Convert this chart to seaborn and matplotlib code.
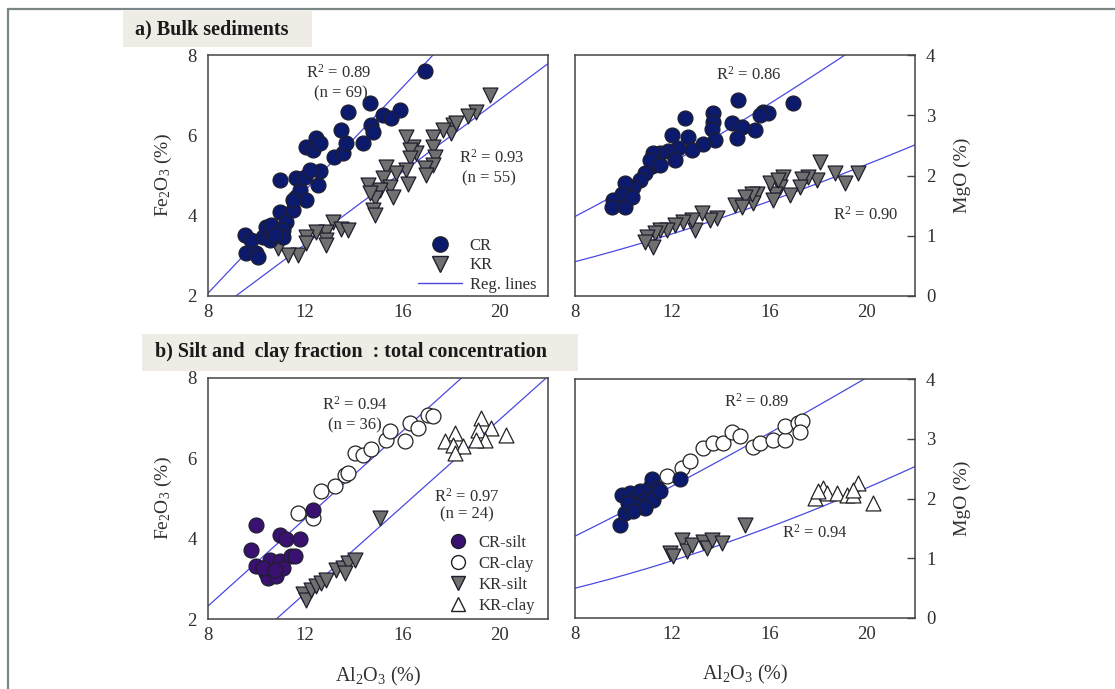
import numpy as np
import pandas as pd
import matplotlib
matplotlib.use("Agg")
import matplotlib.pyplot as plt
from matplotlib.lines import Line2D
from matplotlib.patches import Rectangle
import seaborn as sns

# ---------------- data ----------------
# a) bulk sediments: Al2O3 vs Fe2O3
bulk_cr_al = [16.92, 9.54, 9.58, 9.99, 10.06, 9.78, 10.26, 10.40, 10.6, 10.95, 10.95, 11.23, 11.09, 11.5,
              11.64, 11.77, 11.64, 11.98, 12.05, 12.05, 12.32, 12.46, 12.6, 12.6, 12.53, 13.2, 13.55, 13.69,
              13.49, 13.77, 14.38, 14.65, 14.73, 14.8, 15.2, 15.55, 15.9, 12.19, 11.5, 11.09, 10.54, 10.74]
bulk_cr_fe = [7.61, 3.52, 3.06, 3.06, 2.98, 3.39, 3.48, 3.73, 3.77, 4.89, 4.10, 3.85, 3.64, 4.14,
              4.47, 4.64, 4.93, 4.97, 4.39, 5.72, 5.64, 5.93, 5.80, 5.10, 4.76, 5.47, 5.55, 5.80,
              6.13, 6.59, 5.80, 6.80, 6.26, 6.09, 6.50, 6.42, 6.63, 5.14, 4.39, 3.48, 3.39, 3.52]
bulk_kr_al = [19.6, 19.05, 18.7, 18.1, 18.0, 17.67, 17.26, 17.26, 17.33, 17.26, 16.92, 16.99, 16.44, 16.58,
              16.17, 16.3, 16.3, 16.17, 16.23, 15.75, 15.34, 15.2, 15.48, 15.07, 14.86, 14.79, 14.86, 14.59,
              14.66, 13.15, 13.49, 13.77, 12.87, 12.87, 12.87, 12.46, 12.05, 12.05, 11.7, 11.3, 10.88, 15.6, 18.23]
bulk_kr_fe = [7.0, 6.59, 6.47, 6.26, 6.05, 6.13, 5.97, 5.72, 5.47, 5.26, 5.18, 5.01, 5.72, 5.55,
              5.97, 5.64, 5.43, 5.14, 4.80, 5.05, 5.22, 4.93, 4.72, 4.64, 4.43, 4.14, 4.02, 4.76,
              4.56, 3.85, 3.68, 3.64, 3.60, 3.39, 3.27, 3.60, 3.48, 3.31, 3.02, 3.02, 3.19, 4.47, 6.30]

# a) bulk sediments: Al2O3 vs MgO
bulk_cr_al_mg = [16.99, 14.73, 15.75, 15.96, 15.62, 15.41, 13.7, 13.7, 13.63, 13.77, 13.28, 12.53, 11.98,
                 12.67, 12.8, 12.25, 11.84, 11.5, 14.45, 14.86, 14.66, 11.23, 11.16, 10.88, 10.68, 10.40,
                 10.06, 9.92, 9.58, 9.51, 10.06, 10.33, 11.09, 11.5, 12.12]
bulk_cr_mg = [3.20, 3.25, 3.06, 3.03, 3.00, 2.76, 3.03, 2.89, 2.78, 2.59, 2.53, 2.95, 2.67,
              2.64, 2.42, 2.45, 2.40, 2.37, 2.87, 2.81, 2.62, 2.37, 2.15, 2.04, 1.93, 1.81,
              1.87, 1.70, 1.59, 1.48, 1.48, 1.65, 2.26, 2.17, 2.26]
bulk_kr_al_mg = [19.67, 19.12, 18.7, 18.09, 17.95, 17.6, 17.33, 17.26, 16.85, 16.58, 16.44, 16.23, 16.17,
                 16.03, 15.48, 15.34, 15.27, 15.0, 14.59, 14.86, 13.83, 13.56, 13.21, 12.94, 12.8, 12.46,
                 12.12, 11.77, 11.5, 11.29, 10.95, 11.23, 10.88, 16.37]
bulk_kr_mg = [2.04, 1.87, 2.04, 2.23, 1.93, 1.98, 1.95, 1.81, 1.68, 1.98, 1.81, 1.70, 1.59,
              1.87, 1.70, 1.54, 1.70, 1.65, 1.51, 1.48, 1.29, 1.26, 1.37, 1.10, 1.26, 1.23,
              1.18, 1.10, 1.10, 1.04, 0.98, 0.82, 0.90, 1.92]

# b) silt and clay fraction: Al2O3 vs Fe2O3
sc_crsilt_al = [9.99, 9.78, 9.99, 10.40, 10.47, 10.81, 10.54, 10.95, 10.95, 11.23, 11.43, 11.09, 11.77, 11.60, 12.32, 10.26, 10.74]
sc_crsilt_fe = [4.35, 3.73, 3.31, 3.15, 3.02, 3.06, 3.48, 3.44, 4.10, 3.98, 3.56, 3.27, 3.98, 3.56, 4.72, 3.27, 3.23]
sc_crclay_al = [11.71, 12.32, 12.67, 13.22, 13.63, 13.77, 14.04, 14.38, 14.73, 15.34, 15.48, 16.1, 16.3, 16.65, 17.06, 17.26]
sc_crclay_fe = [4.64, 4.51, 5.18, 5.30, 5.59, 5.63, 6.13, 6.09, 6.22, 6.46, 6.67, 6.42, 6.88, 6.76, 7.09, 7.05]
sc_krsilt_al = [15.1, 11.91, 12.05, 12.25, 12.46, 12.67, 12.87, 13.28, 13.56, 13.77, 14.04, 13.63]
sc_krsilt_fe = [4.51, 2.61, 2.48, 2.73, 2.81, 2.90, 2.98, 3.23, 3.27, 3.39, 3.48, 3.15]
sc_krclay_al = [19.25, 19.12, 19.67, 19.39, 19.04, 18.16, 17.74, 18.09, 18.5, 18.16, 20.28]
sc_krclay_fe = [7.0, 6.71, 6.76, 6.46, 6.46, 6.63, 6.42, 6.34, 6.30, 6.13, 6.59]

# b) silt and clay fraction: Al2O3 vs MgO
sc_crsilt_al_mg = [9.85, 10.06, 9.92, 10.26, 10.47, 10.68, 10.88, 10.61, 10.20, 11.09, 11.16, 11.36, 11.23, 11.50, 12.32, 10.88, 10.40]
sc_crsilt_mg = [1.56, 1.76, 2.06, 2.09, 2.01, 2.12, 1.98, 1.87, 1.92, 2.20, 2.32, 2.18, 1.98, 2.12, 2.32, 1.84, 1.79]
sc_crclay_al_mg = [11.77, 12.39, 12.74, 13.28, 13.7, 14.1, 14.45, 14.79, 15.34, 15.62, 16.17, 16.65, 16.65, 17.2, 17.33, 17.26]
sc_crclay_mg = [2.37, 2.51, 2.62, 2.85, 2.93, 2.93, 3.12, 3.04, 2.87, 2.93, 2.98, 2.98, 3.21, 3.26, 3.29, 3.12]
sc_krsilt_al_mg = [15.0, 11.91, 12.05, 12.39, 12.6, 12.80, 13.28, 13.42, 13.63, 14.04]
sc_krsilt_mg = [1.56, 1.09, 1.03, 1.31, 1.12, 1.23, 1.28, 1.17, 1.31, 1.26]
sc_krclay_al_mg = [17.88, 18.22, 18.36, 18.77, 19.19, 19.46, 19.67, 19.46, 20.28, 18.02]
sc_krclay_mg = [2.01, 2.18, 2.09, 2.09, 2.06, 2.06, 2.26, 2.15, 1.92, 2.12]

# regression lines: linear (slope, intercept) for Fe2O3, power (a, b) y = a*x^b for MgO
reg_bulk_fe_cr = (0.640, -3.05)
reg_bulk_fe_kr = (0.450, -2.115)
reg_bulk_mg_cr = (0.0935, 1.273)
reg_bulk_mg_kr = (0.0270, 1.466)
reg_sc_fe_cr = (0.544, -2.03)
reg_sc_fe_kr = (0.540, -3.84)
reg_sc_mg_cr = (0.119, 1.175)
reg_sc_mg_kr = (0.0177, 1.606)

r2_labels = ["R$^2$ = 0.89", "R$^2$ = 0.93", "R$^2$ = 0.86", "R$^2$ = 0.90",
             "R$^2$ = 0.94", "R$^2$ = 0.97", "R$^2$ = 0.89", "R$^2$ = 0.94"]
n_labels = ["(n = 69)", "(n = 55)", "(n = 36)", "(n = 24)"]
x_ticks = [8, 12, 16, 20]
fe_ticks = [2, 4, 6, 8]
mg_ticks = [0, 1, 2, 3, 4]

# ---------------- style ----------------
sns.set_theme(style="white")
plt.rcParams["font.family"] = ["Liberation Serif", "DejaVu Serif"]
plt.rcParams["mathtext.fontset"] = "custom"
plt.rcParams["mathtext.rm"] = "Liberation Serif"
plt.rcParams["mathtext.it"] = "Liberation Serif:italic"
plt.rcParams["mathtext.bf"] = "Liberation Serif:bold"

NAVY = "#0c1a6e"
PURPLE = "#3a1170"
GRAY = "#707070"
EDGE = "#1e1e2e"
LINE = "#4a4ae0"
TEXT = "#303030"
MS = 115

W, H = 1115, 689
fig = plt.figure(figsize=(W / 100, H / 100), dpi=100)
fig.patch.set_facecolor("white")


def px_axes(l, t, r, b):
    return fig.add_axes([l / W, 1 - b / H, (r - l) / W, (b - t) / H])


ax_tl = px_axes(208, 55, 548, 296)
ax_tr = px_axes(575, 55, 915, 296)
ax_bl = px_axes(208, 378, 548, 619)
ax_br = px_axes(575, 379, 915, 618)

xs = np.linspace(8, 22, 200)


def scat(ax, x, y, marker, face, edge, size=MS):
    df = pd.DataFrame({"x": x, "y": y})
    sns.scatterplot(data=df, x="x", y="y", ax=ax, marker=marker, color=face,
                    edgecolor=edge, linewidth=0.9, s=size, legend=False, zorder=3)


def lin(ax, coef):
    ax.plot(xs, coef[0] * xs + coef[1], color=LINE, lw=0.9, zorder=2)


def powl(ax, coef):
    ax.plot(xs, coef[0] * xs ** coef[1], color=LINE, lw=0.9, zorder=2)


def style(ax, yticks, ylim, right=False):
    ax.set_xlim(8, 22)
    ax.set_ylim(*ylim)
    ax.set_xticks(x_ticks)
    ax.set_yticks(yticks)
    for s in ax.spines.values():
        s.set_color("#444444")
        s.set_linewidth(1.1)
        s.set_visible(True)
    ax.tick_params(axis="both", direction="in", length=6, width=1.0, color="#444444",
                   labelsize=13.5, labelcolor=TEXT)
    ax.tick_params(axis="x", pad=6)
    ax.tick_params(axis="y", pad=8)
    if right:
        ax.yaxis.tick_right()
        ax.yaxis.set_label_position("right")
    ax.set_xlabel("")
    ax.set_ylabel("")
    ax.set_facecolor("white")


# top-left
lin(ax_tl, reg_bulk_fe_cr)
lin(ax_tl, reg_bulk_fe_kr)
scat(ax_tl, bulk_kr_al, bulk_kr_fe, "v", GRAY, EDGE)
scat(ax_tl, bulk_cr_al, bulk_cr_fe, "o", NAVY, EDGE)
style(ax_tl, fe_ticks, (2, 8))
ax_tl.set_ylabel("Fe$_2$O$_3$ (%)", fontsize=14, color=TEXT)
ax_tl.yaxis.set_label_coords(-0.10, 0.5)

# top-right
powl(ax_tr, reg_bulk_mg_cr)
powl(ax_tr, reg_bulk_mg_kr)
scat(ax_tr, bulk_kr_al_mg, bulk_kr_mg, "v", GRAY, EDGE)
scat(ax_tr, bulk_cr_al_mg, bulk_cr_mg, "o", NAVY, EDGE)
style(ax_tr, mg_ticks, (0, 4), right=True)
ax_tr.set_ylabel("MgO (%)", fontsize=14, color=TEXT, rotation=90)
ax_tr.yaxis.set_label_coords(1.115, 0.5)

# bottom-left
lin(ax_bl, reg_sc_fe_cr)
lin(ax_bl, reg_sc_fe_kr)
scat(ax_bl, sc_krclay_al, sc_krclay_fe, "^", "white", "#222222")
scat(ax_bl, sc_krsilt_al, sc_krsilt_fe, "v", GRAY, EDGE)
scat(ax_bl, sc_crclay_al, sc_crclay_fe, "o", "white", "#222222")
scat(ax_bl, sc_crsilt_al, sc_crsilt_fe, "o", PURPLE, EDGE)
style(ax_bl, fe_ticks, (2, 8))
ax_bl.set_ylabel("Fe$_2$O$_3$ (%)", fontsize=14, color=TEXT)
ax_bl.yaxis.set_label_coords(-0.10, 0.5)
ax_bl.set_xlabel("Al$_2$O$_3$ (%)", fontsize=14.5, color=TEXT)
ax_bl.xaxis.set_label_coords(0.5, -0.19)

# bottom-right
powl(ax_br, reg_sc_mg_cr)
powl(ax_br, reg_sc_mg_kr)
scat(ax_br, sc_krclay_al_mg, sc_krclay_mg, "^", "white", "#222222")
scat(ax_br, sc_krsilt_al_mg, sc_krsilt_mg, "v", GRAY, EDGE)
scat(ax_br, sc_crclay_al_mg, sc_crclay_mg, "o", "white", "#222222")
scat(ax_br, sc_crsilt_al_mg, sc_crsilt_mg, "o", NAVY, EDGE)
style(ax_br, mg_ticks, (0, 4), right=True)
ax_br.set_ylabel("MgO (%)", fontsize=14, color=TEXT, rotation=90)
ax_br.yaxis.set_label_coords(1.115, 0.5)
ax_br.set_xlabel("Al$_2$O$_3$ (%)", fontsize=14.5, color=TEXT)
ax_br.xaxis.set_label_coords(0.5, -0.19)

# annotations (axes coordinates)
ann_kw = dict(fontsize=12, color=TEXT, ha="center", va="center")
ax_tl.text(0.385, 0.925, r2_labels[0], transform=ax_tl.transAxes, **ann_kw)
ax_tl.text(0.39, 0.84, n_labels[0], transform=ax_tl.transAxes, **ann_kw)
ax_tl.text(0.835, 0.573, r2_labels[1], transform=ax_tl.transAxes, **ann_kw)
ax_tl.text(0.825, 0.49, n_labels[1], transform=ax_tl.transAxes, **ann_kw)
ax_tr.text(0.51, 0.917, r2_labels[2], transform=ax_tr.transAxes, **ann_kw)
ax_tr.text(0.855, 0.336, r2_labels[3], transform=ax_tr.transAxes, **ann_kw)
ax_bl.text(0.432, 0.888, r2_labels[4], transform=ax_bl.transAxes, **ann_kw)
ax_bl.text(0.432, 0.805, n_labels[2], transform=ax_bl.transAxes, **ann_kw)
ax_bl.text(0.762, 0.508, r2_labels[5], transform=ax_bl.transAxes, **ann_kw)
ax_bl.text(0.762, 0.433, n_labels[3], transform=ax_bl.transAxes, **ann_kw)
ax_br.text(0.535, 0.903, r2_labels[6], transform=ax_br.transAxes, **ann_kw)
ax_br.text(0.706, 0.356, r2_labels[7], transform=ax_br.transAxes, **ann_kw)

# legends
h_top = [Line2D([], [], marker="o", ls="", markerfacecolor=NAVY, markeredgecolor=EDGE, markersize=11, label="CR"),
         Line2D([], [], marker="v", ls="", markerfacecolor=GRAY, markeredgecolor=EDGE, markersize=11, label="KR"),
         Line2D([], [], color=LINE, lw=1.0, label="Reg. lines")]
ax_tl.legend(handles=h_top, loc="lower right", bbox_to_anchor=(1.0, -0.035), frameon=False,
             fontsize=12, handlelength=2.6, handletextpad=0.5, labelspacing=0.2,
             labelcolor=TEXT, borderaxespad=0.3)
h_bot = [Line2D([], [], marker="o", ls="", markerfacecolor=PURPLE, markeredgecolor=EDGE, markersize=10, label="CR-silt"),
         Line2D([], [], marker="o", ls="", markerfacecolor="white", markeredgecolor="#222222", markersize=10, label="CR-clay"),
         Line2D([], [], marker="v", ls="", markerfacecolor=GRAY, markeredgecolor=EDGE, markersize=10, label="KR-silt"),
         Line2D([], [], marker="^", ls="", markerfacecolor="white", markeredgecolor="#222222", markersize=10, label="KR-clay")]
ax_bl.legend(handles=h_bot, loc="lower right", bbox_to_anchor=(1.0, -0.035), frameon=False,
             fontsize=12, handlelength=1.2, handletextpad=0.6, labelspacing=0.3,
             labelcolor=TEXT, borderaxespad=0.4)

# header boxes
fig.patches.append(Rectangle((123 / W, 1 - 47 / H), (312 - 123) / W, 36 / H, transform=fig.transFigure,
                             facecolor="#eeece4", edgecolor="none", zorder=0))
fig.text(135 / W, 1 - 29 / H, "a) Bulk sediments", fontsize=14.5, fontweight="bold", color="#1a1a1a",
         ha="left", va="center")
fig.patches.append(Rectangle((142 / W, 1 - 371 / H), (578 - 142) / W, 37 / H, transform=fig.transFigure,
                             facecolor="#eeece4", edgecolor="none", zorder=0))
fig.text(155 / W, 1 - 352 / H, "b) Silt and  clay fraction  : total concentration", fontsize=14.5,
         fontweight="bold", color="#1a1a1a", ha="left", va="center")

# outer frame (left and top)
fig.add_artist(Line2D([8 / W, 8 / W], [0, 1 - 9 / H], transform=fig.transFigure, color="#7a8585", lw=1.6))
fig.add_artist(Line2D([8 / W, 1], [1 - 9 / H, 1 - 9 / H], transform=fig.transFigure, color="#7a8585", lw=1.6))

fig.savefig("out.png", dpi=100)
